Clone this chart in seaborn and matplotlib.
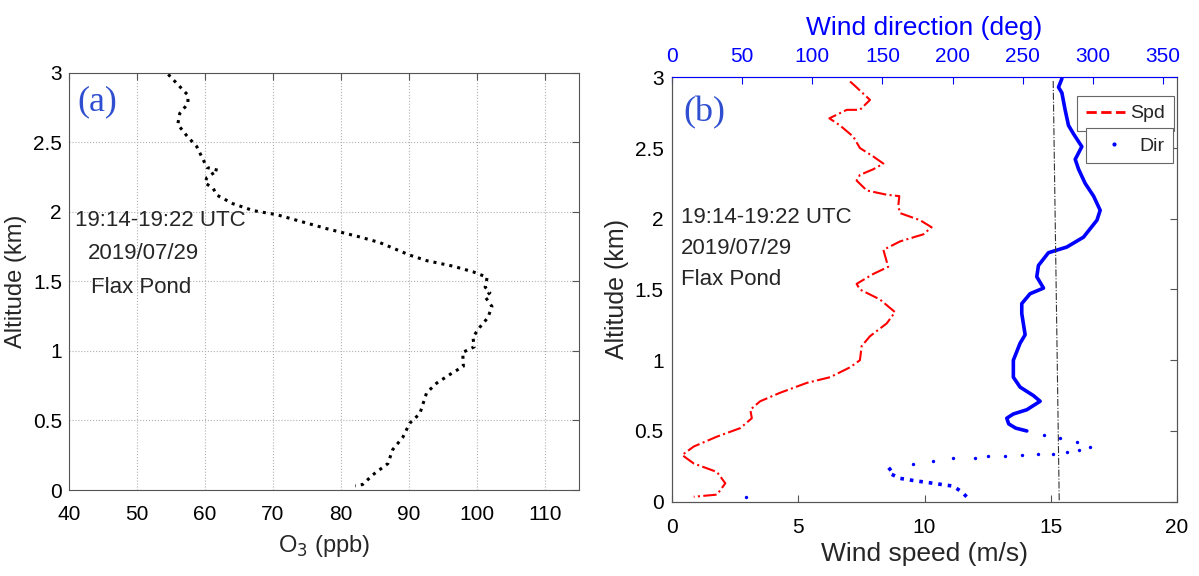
import numpy as np
import pandas as pd
import matplotlib as mpl
mpl.use('Agg')
import matplotlib.pyplot as plt
from matplotlib.lines import Line2D
import seaborn as sns

# panel (a): ozone profile
o3 = [54.6, 57.5, 57.5, 56.3, 56.0, 57.3, 58.8, 60.3, 61.9, 60.3, 60.0, 61.2, 61.8,
      64.1, 67.1, 70.6, 77.9, 82.8, 85.7, 90.1, 92.6, 96.5, 99.4, 101.5, 101.2, 101.9,
      101.2, 102.2, 101.6, 100.4, 99.4, 99.6, 97.9, 98.0, 96.3, 94.1, 92.6, 91.6, 90.1,
      89.1, 87.6, 86.9, 84.7, 83.2, 82.1]
o3_alt = [2.99, 2.84, 2.78, 2.71, 2.63, 2.55, 2.47, 2.32, 2.30, 2.25, 2.21, 2.17, 2.12,
          2.06, 2.01, 1.98, 1.88, 1.82, 1.78, 1.69, 1.65, 1.61, 1.57, 1.53, 1.46, 1.42,
          1.39, 1.32, 1.24, 1.17, 1.10, 1.03, 0.99, 0.89, 0.84, 0.77, 0.70, 0.55, 0.48,
          0.38, 0.29, 0.19, 0.11, 0.04, 0.03]

# panel (b): wind speed
spd = [7.05, 7.18, 7.84, 7.44, 6.92, 6.23, 6.65, 7.18, 7.44, 7.97, 8.37, 7.97, 7.44,
       7.31, 7.71, 8.50, 9.00, 8.96, 9.03, 9.82, 10.28, 9.95, 9.03, 8.37, 8.56, 7.97,
       7.31, 7.44, 8.23, 8.83, 8.50, 7.84, 7.51, 7.44, 7.05, 6.26, 5.34, 4.28, 3.49,
       3.10, 3.16, 2.70, 1.78, 0.86, 0.40, 0.86, 1.78, 2.11, 1.78, 0.86]
spd_alt = [2.97, 2.95, 2.84, 2.77, 2.77, 2.71, 2.66, 2.58, 2.50, 2.44, 2.39, 2.35, 2.31,
           2.27, 2.20, 2.17, 2.16, 2.09, 2.04, 1.99, 1.94, 1.89, 1.84, 1.78, 1.66, 1.61,
           1.54, 1.50, 1.43, 1.34, 1.26, 1.17, 1.10, 1.00, 0.95, 0.88, 0.84, 0.77, 0.71,
           0.65, 0.59, 0.52, 0.46, 0.39, 0.33, 0.27, 0.21, 0.13, 0.05, 0.035]

# wind direction, near ground (dense dots)
dir_low = [210.0, 206.4, 200.5, 186.2, 171.9, 162.4, 155.2, 154.0, 157.6]
dir_low_alt = [0.035, 0.07, 0.11, 0.13, 0.15, 0.165, 0.20, 0.22, 0.25]
# wind direction, fast turning layer (sparse dots)
dir_turn = [171.9, 186.2, 200.5, 216.0, 225.5, 237.4, 249.3, 261.2, 271.9, 281.4,
            289.8, 298.0, 288.6, 276.7, 264.8]
dir_turn_alt = [0.27, 0.29, 0.31, 0.31, 0.32, 0.32, 0.33, 0.34, 0.34, 0.35,
                0.365, 0.39, 0.42, 0.45, 0.47]
# wind direction aloft
dir_high = [252.9, 245.0, 240.0, 238.6, 243.3, 252.9, 262.4, 257.6, 248.1, 243.3, 243.3,
            248.1, 251.7, 249.3, 249.3, 255.2, 264.8, 260.0, 261.2, 268.3, 281.4,
            293.3, 302.9, 305.2, 300.5, 294.5, 289.8, 287.4, 292.1, 286.2, 282.6,
            280.2, 277.9, 275.5, 277.9]
dir_high_alt = [0.50, 0.52, 0.55, 0.59, 0.62, 0.65, 0.71, 0.75, 0.81, 0.88, 1.00,
                1.12, 1.18, 1.33, 1.40, 1.47, 1.51, 1.59, 1.67, 1.76, 1.80,
                1.87, 1.99, 2.06, 2.16, 2.25, 2.35, 2.42, 2.51, 2.60, 2.66,
                2.77, 2.89, 2.93, 2.99]
stray_dir = [52.4]
stray_alt = [0.035]
# reference direction line
ref_dir = [276.0, 271.7]
ref_alt = [0.01, 2.98]

sns.set_theme(style='white')
plt.rcParams['font.family'] = ['Liberation Sans', 'DejaVu Sans']
plt.rcParams['xtick.direction'] = 'in'
plt.rcParams['ytick.direction'] = 'in'

fig = plt.figure(figsize=(11.99, 5.76), dpi=100)
ax1 = fig.add_axes([0.0575, 0.1493, 0.4254, 0.724])
ax2 = fig.add_axes([0.5605, 0.129, 0.4212, 0.7368])

spine_col = '#555555'
tick_fs = 15
for ax in (ax1, ax2):
    for s in ax.spines.values():
        s.set_color(spine_col)
        s.set_linewidth(0.8)
    ax.tick_params(labelsize=tick_fs, length=5, width=0.8, color=spine_col,
                   top=True, right=True, labelcolor='black')

# ---- (a)
sns.lineplot(x=o3, y=o3_alt, sort=False, estimator=None, ax=ax1,
             color='black', linestyle=':', linewidth=2.2)
ax1.set_xlim(40, 115)
ax1.set_ylim(0, 3)
ax1.set_xticks(np.arange(40, 111, 10))
ax1.set_yticks([0, 0.5, 1, 1.5, 2, 2.5, 3])
ax1.set_yticklabels(['0', '0.5', '1', '1.5', '2', '2.5', '3'])
ax1.tick_params(axis='x', pad=11)
ax1.tick_params(axis='y', pad=5)
ax1.grid(True, linestyle=':', color='#b0b0b0', linewidth=0.8)
ax1.set_xlabel('O$_3$ (ppb)', fontsize=17, labelpad=6)
ax1.set_ylabel('Altitude (km)', fontsize=17, labelpad=4)
ax1.text(41.3, 2.79, '(a)', fontsize=26, color='#2f4fd0', family='Liberation Serif',
         va='center')
for txt, xx, yy in [('19:14-19:22 UTC', 40.9, 1.94), ('2019/07/29', 42.8, 1.70),
                    ('Flax Pond', 43.2, 1.46)]:
    ax1.text(xx, yy, txt, fontsize=16, va='center', ha='left')

# ---- (b)
sns.lineplot(x=spd, y=spd_alt, sort=False, estimator=None, ax=ax2,
             color='red', linestyle='-.', linewidth=1.5)
ax2.set_xlim(0, 20)
ax2.set_ylim(0, 3)
ax2.set_xticks([0, 5, 10, 15, 20])
ax2.set_yticks([0, 0.5, 1, 1.5, 2, 2.5, 3])
ax2.set_yticklabels(['0', '0.5', '1', '1.5', '2', '2.5', '3'])
ax2.tick_params(top=False)
ax2.tick_params(axis='x', pad=12)
ax2.tick_params(axis='y', pad=6)
ax2.set_xlabel('Wind speed (m/s)', fontsize=19, labelpad=3)
ax2.set_ylabel('Altitude (km)', fontsize=18, labelpad=4)

ax3 = ax2.twiny()
ax3.set_xlim(0, 360)
ax3.set_xticks(np.arange(0, 351, 50))
ax3.tick_params(labelsize=tick_fs, length=5, width=0.8, color='blue', labelcolor='blue',
                direction='in', top=True, bottom=False, pad=8)
for s in ax3.spines.values():
    s.set_color(spine_col)
    s.set_linewidth(0.8)
ax3.spines['top'].set_color('blue')
ax3.set_xlabel('Wind direction (deg)', fontsize=19, color='blue', labelpad=9)

sns.lineplot(x=dir_high, y=dir_high_alt, sort=False, estimator=None, ax=ax3,
             color='blue', linewidth=2.6)
sns.lineplot(x=dir_low, y=dir_low_alt, sort=False, estimator=None, ax=ax3,
             color='blue', linestyle=':', linewidth=2.6)
sns.scatterplot(x=dir_turn + stray_dir, y=dir_turn_alt + stray_alt, ax=ax3,
                color='blue', s=6, linewidth=0)
sns.lineplot(x=ref_dir, y=ref_alt, sort=False, estimator=None, ax=ax3,
             color='#333333', linestyle='-.', linewidth=0.8)
ax3.set_ylim(0, 3)

ax3.text(8, 2.75, '(b)', fontsize=26, color='#2f4fd0', family='Liberation Serif',
         va='center')
for txt, yy in [('19:14-19:22 UTC', 2.01), ('2019/07/29', 1.79), ('Flax Pond', 1.57)]:
    ax3.text(6.5, yy, txt, fontsize=16, va='center', ha='left')

leg_kw = dict(loc='upper right', fancybox=False, edgecolor='#666666', fontsize=14,
              borderaxespad=0, handlelength=2.0, handletextpad=0.3, borderpad=0.45,
              framealpha=1)
leg1 = ax3.legend(handles=[Line2D([], [], color='red', linestyle='--', linewidth=2)],
                  labels=['Spd'], bbox_to_anchor=(0.994, 0.956), **leg_kw)
leg1.get_frame().set_linewidth(0.8)
ax3.add_artist(leg1)
leg2 = ax3.legend(handles=[Line2D([], [], color='blue', marker='.', linestyle='none',
                                  markersize=4)],
                  labels=['Dir'], bbox_to_anchor=(0.992, 0.880), **leg_kw)
leg2.get_frame().set_linewidth(0.8)

fig.savefig('out.png', dpi=100)
